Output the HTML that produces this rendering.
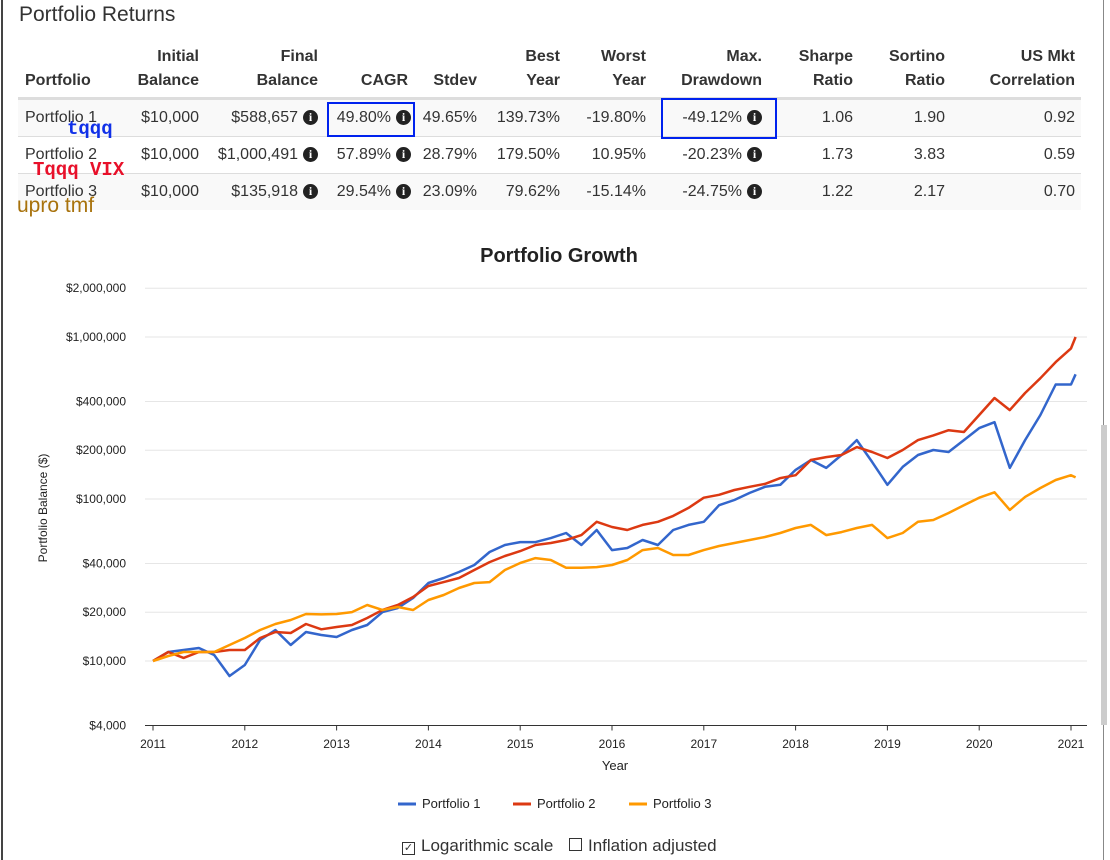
<!DOCTYPE html>
<html><head><meta charset="utf-8"><style>
body{margin:0;width:1110px;height:860px;background:#fff;font-family:"Liberation Sans",Arial,sans-serif;color:#333;position:relative;overflow:hidden}
.abs{position:absolute}
.th{position:absolute;font-weight:bold;font-size:16px;text-align:right;line-height:24px}
.td{position:absolute;font-size:16px;text-align:right;white-space:nowrap}
.ic{display:inline-block;width:15px;height:15px;border-radius:50%;background:#222;color:#fff;font:bold 12px "Liberation Serif",serif;text-align:center;line-height:15px;vertical-align:1px;margin-left:5px}
</style></head><body>
<div class="abs" style="left:1px;top:0;width:2px;height:860px;background:#444"></div>
<div class="abs" style="left:1103px;top:0;width:1px;height:860px;background:#888"></div>
<div class="abs" style="left:1101px;top:425px;width:6px;height:300px;background:#ccc"></div>
<div class="abs" style="left:19px;top:3px;font-size:21px;color:#333">Portfolio Returns</div>

<div>
<div class="th" style="left:25px;top:69px;text-align:left">Portfolio</div>
<div class="th" style="right:911px;top:45px">Initial<br>Balance</div>
<div class="th" style="right:792px;top:45px">Final<br>Balance</div>
<div class="th" style="right:702px;top:69px">CAGR</div>
<div class="th" style="right:633px;top:69px">Stdev</div>
<div class="th" style="right:550px;top:45px">Best<br>Year</div>
<div class="th" style="right:464px;top:45px">Worst<br>Year</div>
<div class="th" style="right:348px;top:45px">Max.<br>Drawdown</div>
<div class="th" style="right:257px;top:45px">Sharpe<br>Ratio</div>
<div class="th" style="right:165px;top:45px">Sortino<br>Ratio</div>
<div class="th" style="right:35px;top:45px">US Mkt<br>Correlation</div>
<div class="abs" style="left:18px;top:97px;width:1063px;height:3px;background:#ddd"></div>
<div class="abs" style="left:18px;top:100px;width:1063px;height:36px;background:#f9f9f9;border-bottom:1px solid #ddd"></div>
<div class="abs" style="left:18px;top:137px;width:1063px;height:36px;border-bottom:1px solid #ddd"></div>
<div class="abs" style="left:18px;top:174px;width:1063px;height:36px;background:#f9f9f9"></div>
</div>
<div id="rows"></div>

<div class="abs" style="left:327px;top:102px;width:84px;height:31px;border:2px solid #0022ee"></div>
<div class="abs" style="left:661px;top:98px;width:112px;height:37px;border:2px solid #0022ee"></div>
<div class="abs" style="left:67px;top:118px;font:bold 19px 'Liberation Mono',monospace;color:#1030e8">tqqq</div>
<div class="abs" style="left:33px;top:159px;font:bold 19px 'Liberation Mono',monospace;color:#e8102a">Tqqq VIX</div>
<div class="abs" style="left:17px;top:194px;font-size:21px;color:#a8720c">upro tmf</div>

<svg id="chart" class="abs" style="left:0;top:230px" width="1110" height="630"></svg>

<script>
const rowNames=["Portfolio 1","Portfolio 2","Portfolio 3"];
const initialBal=["$10,000","$10,000","$10,000"];
const finalBal=["$588,657","$1,000,491","$135,918"];
const cagr=["49.80%","57.89%","29.54%"];
const stdev=["49.65%","28.79%","23.09%"];
const bestYear=["139.73%","179.50%","79.62%"];
const worstYear=["-19.80%","10.95%","-15.14%"];
const maxDD=["-49.12%","-20.23%","-24.75%"];
const sharpe=["1.06","1.73","1.22"];
const sortino=["1.90","3.83","2.17"];
const corr=["0.92","0.59","0.70"];

const years=[2011,2012,2013,2014,2015,2016,2017,2018,2019,2020,2021];
const yTickVals=[4000,10000,20000,40000,100000,200000,400000,1000000,2000000];
const yTickLabels=["$4,000","$10,000","$20,000","$40,000","$100,000","$200,000","$400,000","$1,000,000","$2,000,000"];
const startYear=2011;
const stepYears=1/6;
const endYear=2021.05;
const p1=[10000,11370,11690,12030,10890,8080,9450,13480,15540,12550,15100,14470,14060,15540,16690,20050,21240,24470,30300,32540,35410,39130,47060,52000,54200,54200,57400,61700,52000,64400,48400,49800,55800,52000,64400,69200,72300,91600,98600,109000,118900,122300,151300,174000,155600,187000,231000,169400,122300,157800,187000,200600,195000,231000,274000,298000,155600,231000,330000,509000,509000,588657];
const p2=[10000,11370,10450,11370,11370,11690,11690,13870,15100,14890,16920,15690,16220,16690,18420,20650,22170,24820,29030,30700,32540,36450,40800,44460,47700,52000,53500,55800,59900,72300,67200,64400,69200,72300,78600,88100,101800,106200,113700,118900,124000,134600,140300,174000,181500,187000,209000,195000,179000,200600,231000,247000,266000,259000,330000,420000,354000,451000,557000,700000,850000,1000491];
const p3=[10000,10730,11370,11370,11370,12550,13870,15540,16920,17910,19500,19400,19500,20050,22170,20650,21540,20650,23800,25540,28220,30300,30700,36450,40240,43200,42000,37600,37600,38000,39130,42000,48400,49800,45100,45100,48400,51300,53500,55800,58300,61700,66200,69200,59900,62500,66200,69200,57400,61700,72300,74200,82000,91600,101800,110000,85700,103000,117000,131000,140300,135918];
const seriesNames=["Portfolio 1","Portfolio 2","Portfolio 3"];
const seriesColors=["#3366cc","#dc3912","#ff9900"];

const rowsEl=document.getElementById('rows');
const cols=[[initialBal,911,false],[finalBal,792,true],[cagr,699,true],[stdev,633,false],[bestYear,550,false],[worstYear,464,false],[maxDD,348,true],[sharpe,257,false],[sortino,165,false],[corr,35,false]];
rowNames.forEach((n,i)=>{
  const top=109+i*37;
  const d=document.createElement('div');
  d.className='td';d.style.left='25px';d.style.top=top+'px';d.style.textAlign='left';d.textContent=n;
  
  
  rowsEl.appendChild(d);
  cols.forEach((c,j)=>{
    const e=document.createElement('div');
    e.className='td';e.style.right=c[1]+'px';e.style.top=top+'px';
    e.innerHTML=c[0][i]+(c[2]?'<span class="ic">i</span>':'');
    
    
    rowsEl.appendChild(e);
  });
});

const svg=document.getElementById('chart');
const NS='http://www.w3.org/2000/svg';
const OY=230;
const x0=153,x1=1071;
function xs(t){return x0+(t-2011)*(x1-x0)/10;}
function ys(v){return 661-OY-Math.log10(v/10000)*162;}
function mk(tag,attrs,name,txt){const e=document.createElementNS(NS,tag);for(const k in attrs)e.setAttribute(k,attrs[k]);
  
  
  if(txt!==undefined)e.textContent=txt;svg.appendChild(e);return e;}
mk('text',{x:559,y:32,'text-anchor':'middle','font-size':20,'font-weight':'bold',fill:'#222','font-family':'Liberation Sans'},'chart-title','Portfolio Growth');
yTickVals.forEach((v,i)=>{
  const y=ys(v);
  if(i>0) mk('line',{x1:145,x2:1087,y1:y,y2:y,stroke:'#e6e6e6','stroke-width':1},'gridline');
  mk('text',{x:126,y:y+4,'text-anchor':'end','font-size':12,fill:'#222','font-family':'Liberation Sans'},'y-tick-label',yTickLabels[i]);
});
mk('line',{x1:145,x2:1087,y1:ys(4000),y2:ys(4000),stroke:'#333','stroke-width':1},'x-axis-line');
years.forEach(yr=>{
  const x=xs(yr);
  mk('line',{x1:x,x2:x,y1:ys(4000),y2:ys(4000)+5,stroke:'#333'},'x-tick');
  mk('text',{x:x,y:518,'text-anchor':'middle','font-size':12,fill:'#222','font-family':'Liberation Sans'},'x-tick-label',String(yr));
});
mk('text',{x:615,y:540,'text-anchor':'middle','font-size':13,fill:'#222','font-family':'Liberation Sans'},'x-axis-title','Year');
mk('text',{x:47,y:278,'text-anchor':'middle','font-size':12,fill:'#222','font-family':'Liberation Sans',transform:'rotate(-90 47 278)'},'y-axis-title','Portfolio Balance ($)');
[p1,p2,p3].forEach((s,k)=>{
  const pts=s.map((v,i)=>{const t=i<s.length-1?startYear+i*stepYears:endYear;return xs(t).toFixed(1)+','+ys(v).toFixed(1);}).join(' ');
  mk('polyline',{points:pts,fill:'none',stroke:seriesColors[k],'stroke-width':2.5,'stroke-linejoin':'round'},'series-line-'+(k+1));
});
const legX=[398,513,629];
seriesNames.forEach((n,k)=>{
  mk('line',{x1:legX[k],x2:legX[k]+18,y1:574,y2:574,stroke:seriesColors[k],'stroke-width':3},'legend-swatch-'+(k+1));
  mk('text',{x:legX[k]+24,y:578,'font-size':13,fill:'#222','font-family':'Liberation Sans'},'legend-entry-'+(k+1),n);
});
</script>

<label class="abs" style="left:402px;top:836px;font-size:17px;color:#333"><span style="display:inline-block;width:11px;height:11px;border:1px solid #333;font-size:11px;line-height:11px;text-align:center;vertical-align:0px;margin-right:6px">✓</span>Logarithmic scale</label>
<label class="abs" style="left:569px;top:836px;font-size:17px;color:#333"><span style="display:inline-block;width:11px;height:11px;border:1px solid #333;vertical-align:0px;margin-right:6px"></span>Inflation adjusted</label>
</body></html>
